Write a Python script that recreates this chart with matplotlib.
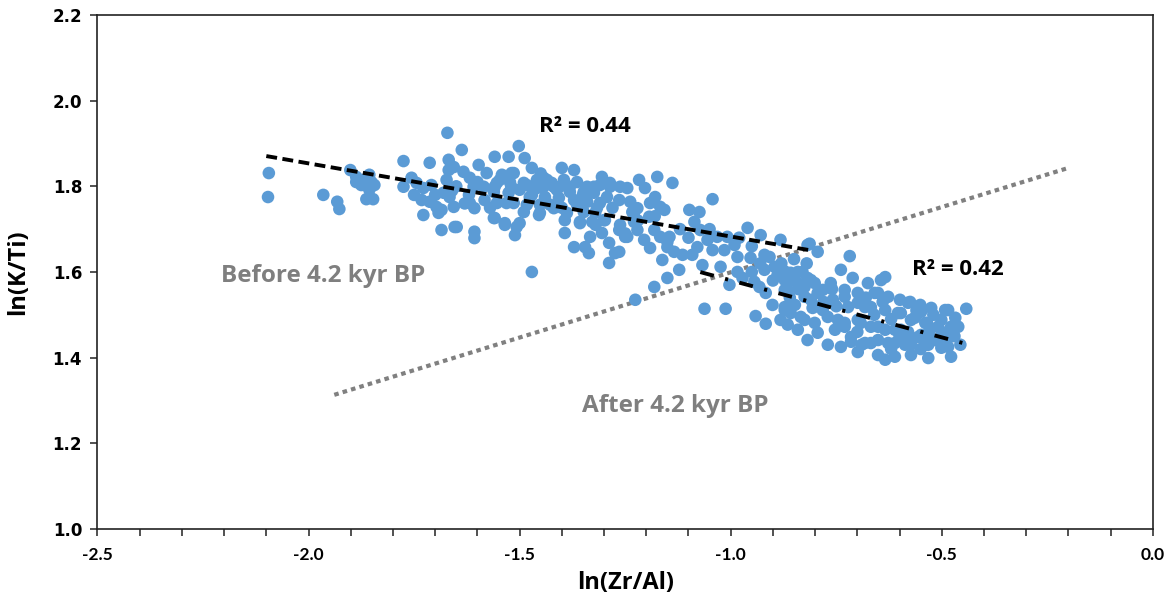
import matplotlib
matplotlib.use("Agg")
import matplotlib.pyplot as plt
from matplotlib.ticker import MultipleLocator, FormatStrFormatter
import numpy as np

# ---- data ----
ln_zr_al = [
    -2.094, -2.096, -1.965, -1.932, -1.927, -1.901, -1.887, -1.870, -1.856, -1.844,
    -1.875, -1.856, -1.863, -1.847, -1.887, -1.863, -1.851, -1.775, -1.775, -1.756,
    -1.744, -1.728, -1.713, -1.709, -1.728, -1.732, -1.713, -1.697, -1.692, -1.685,
    -1.671, -1.668, -1.668, -1.673, -1.680, -1.666, -1.656, -1.654,
    -1.656, -1.685, -1.649, -1.637, -1.633, -1.618, -1.609, -1.618, -1.607, -1.607,
    -1.607, -1.597, -1.578, -1.583, -1.559, -1.559, -1.547, -1.561, -1.535, -1.526,
    -1.531, -1.519, -1.502, -1.507, -1.511, -1.488, -1.490, -1.471, -1.476, -1.459,
    -1.454, -1.471, -1.443, -1.435, -1.419, -1.428, -1.400, -1.405, -1.393, -1.393,
    -1.381, -1.371, -1.371, -1.364, -1.357, -1.345, -1.336, -1.333, -1.324, -1.321,
    -1.305, -1.300, -1.305, -1.286, -1.288, -1.288, -1.274, -1.264, -1.264, -1.245,
    -1.250, -1.238, -1.233, -1.229, -1.226,
    -1.262, -1.217, -1.203, -1.174, -1.138, -1.221, -1.191, -1.179, -1.167, -1.229,
    -1.193, -1.157, -1.262, -1.221, -1.181, -1.245, -1.205, -1.167, -1.145, -1.191,
    -1.150, -1.134, -1.114, -1.091, -1.162, -1.264, -1.079, -1.098, -1.074, -1.086,
    -1.043, -1.072, -1.055, -1.032, -1.008, -1.043, -1.015, -0.991, -0.960, -0.929,
    -0.882, -0.984, -0.953, -0.908, -0.818, -1.067, -1.024, -1.122, -1.150, -1.181,
    -1.062, -1.012, -1.003, -0.984, -0.972, -0.944, -0.920, -0.932, -0.917, -0.896,
    -0.889, -0.872, -0.872, -0.858, -0.841, -0.841, -0.825, -0.818, -0.801, -0.901,
    -0.872, -0.858, -0.941, -0.917, -0.882, -0.841, -0.825, -0.801, -0.810, -0.806,
    -0.813, -0.794, -0.718, -0.634, -0.877, -0.810, -0.763, -0.739, -0.711, -0.675,
    -0.651, -0.627, -0.599, -0.575, -0.551, -0.525, -0.485, -0.442, -0.865, -0.825,
    -0.794, -0.758, -0.730, -0.699, -0.668, -0.634, -0.604, -0.573, -0.539, -0.509,
    -0.478, -0.461, -0.872, -0.834, -0.770, -0.730, -0.699, -0.668, -0.634, -0.597,
    -0.556, -0.525, -0.492, -0.794, -0.753, -0.715, -0.682, -0.651, -0.611, -0.573,
    -0.532, -0.501, -0.739, -0.699, -0.651, -0.611, -0.573, -0.532, -0.478, -0.456,
    -0.634, -0.468,
    -1.542, -1.514, -1.443, -1.424, -1.395, -1.364, -1.340, -1.310, -1.286, -1.554,
    -1.523, -1.483, -1.459, -1.412, -1.381, -1.348, -1.324, -1.293, -1.585, -1.561,
    -1.526, -1.500, -1.471, -1.440, -1.407, -1.371, -1.340, -1.310, -1.554, -1.514,
    -1.483, -1.452, -1.419, -1.388, -1.348, -1.317, -1.559, -1.535, -1.500, -1.452,
    -1.357, -1.328, -1.298,
    -0.644, -0.580, -0.549, -0.492, -0.730, -0.699, -0.659, -0.722, -0.682, -0.597,
    -0.564, -0.535, -0.501, -0.730, -0.692, -0.651, -0.611, -0.580, -0.549, -0.516,
    -0.485, -0.715, -0.668, -0.627, -0.587, -0.539, -0.485,
    -0.853, -0.782, -0.848, -0.782, -0.746, -0.865, -0.818, -0.770,
    -0.750, -0.620, -0.580, -0.660, -0.700, -0.530, -0.600, -0.640, -0.780, -0.760,
    -0.680, -0.560, -0.520, -0.500, -0.470, -0.550, -0.620, -0.690, -0.800, -0.840,
    -1.750, -1.700, -1.650, -1.620, -1.630, -1.600, -1.520, -1.450, -1.350, -1.280,
    -1.220, -1.180, -1.120, -1.100, -1.050, -0.980, -0.950, -0.920, -0.880, -0.850,
    -1.150, -1.250, -1.320, -1.400, -1.490, -1.570, -1.660,
    -0.950, -0.900, -0.930, -0.870, -0.830, -0.860, -0.820,
]
ln_k_ti = [
    1.831, 1.775, 1.780, 1.764, 1.747, 1.838, 1.822, 1.815, 1.827, 1.803,
    1.803, 1.792, 1.770, 1.770, 1.810, 1.803, 1.810, 1.859, 1.799, 1.820,
    1.808, 1.796, 1.855, 1.803, 1.733, 1.768, 1.764, 1.752, 1.738, 1.698,
    1.925, 1.862, 1.838, 1.815, 1.785, 1.775, 1.752, 1.705,
    1.845, 1.745, 1.705, 1.885, 1.834, 1.820, 1.799, 1.761, 1.749, 1.694,
    1.679, 1.850, 1.831, 1.768, 1.869, 1.799, 1.815, 1.726, 1.710, 1.869,
    1.761, 1.831, 1.894, 1.705, 1.686, 1.866, 1.808, 1.843, 1.775, 1.815,
    1.733, 1.600, 1.799, 1.815, 1.799, 1.757, 1.843, 1.799, 1.721, 1.691,
    1.799, 1.838, 1.658, 1.757, 1.714, 1.658, 1.644, 1.682, 1.799, 1.738,
    1.822, 1.721, 1.691, 1.808, 1.668, 1.621, 1.644, 1.768, 1.698, 1.796,
    1.682, 1.764, 1.740, 1.717, 1.535,
    1.799, 1.815, 1.796, 1.822, 1.808, 1.749, 1.761, 1.775, 1.752, 1.738,
    1.729, 1.745, 1.710, 1.698, 1.698, 1.682, 1.675, 1.682, 1.682, 1.656,
    1.658, 1.647, 1.640, 1.640, 1.628, 1.647, 1.658, 1.745, 1.740, 1.717,
    1.770, 1.698, 1.675, 1.682, 1.682, 1.651, 1.651, 1.663, 1.703, 1.686,
    1.675, 1.635, 1.633, 1.635, 1.663, 1.616, 1.612, 1.605, 1.586, 1.565,
    1.514, 1.514, 1.570, 1.600, 1.586, 1.577, 1.605, 1.565, 1.551, 1.612,
    1.593, 1.581, 1.558, 1.598, 1.600, 1.574, 1.565, 1.586, 1.574, 1.523,
    1.518, 1.504, 1.497, 1.479, 1.488, 1.465, 1.488, 1.481, 1.535, 1.516,
    1.666, 1.647, 1.637, 1.588, 1.605, 1.581, 1.574, 1.605, 1.586, 1.574,
    1.551, 1.542, 1.535, 1.530, 1.523, 1.516, 1.511, 1.514, 1.558, 1.542,
    1.551, 1.535, 1.542, 1.528, 1.518, 1.511, 1.504, 1.488, 1.481, 1.472,
    1.472, 1.472, 1.511, 1.495, 1.495, 1.481, 1.488, 1.472, 1.465, 1.465,
    1.448, 1.441, 1.441, 1.458, 1.465, 1.448, 1.434, 1.441, 1.434, 1.430,
    1.430, 1.423, 1.425, 1.413, 1.406, 1.402, 1.406, 1.399, 1.402, 1.430,
    1.395, 1.493,
    1.827, 1.831, 1.820, 1.808, 1.815, 1.810, 1.799, 1.803, 1.799, 1.808,
    1.810, 1.803, 1.796, 1.792, 1.787, 1.787, 1.785, 1.775, 1.799, 1.787,
    1.785, 1.792, 1.780, 1.775, 1.773, 1.768, 1.764, 1.761, 1.761, 1.761,
    1.757, 1.757, 1.749, 1.738, 1.740, 1.749, 1.726, 1.714, 1.714, 1.738,
    1.717, 1.717, 1.721,
    1.581, 1.528, 1.507, 1.511, 1.558, 1.551, 1.551, 1.518, 1.518, 1.504,
    1.493, 1.481, 1.488, 1.472, 1.481, 1.472, 1.465, 1.448, 1.453, 1.441,
    1.446, 1.437, 1.434, 1.434, 1.430, 1.430, 1.425,
    1.581, 1.558, 1.523, 1.511, 1.488, 1.477, 1.441, 1.430,
    1.520, 1.490, 1.460, 1.500, 1.460, 1.460, 1.450, 1.530, 1.530, 1.560,
    1.540, 1.510, 1.500, 1.460, 1.450, 1.420, 1.420, 1.430, 1.520, 1.560,
    1.780, 1.780, 1.800, 1.780, 1.760, 1.810, 1.800, 1.830, 1.780, 1.750,
    1.720, 1.730, 1.700, 1.680, 1.700, 1.680, 1.660, 1.640, 1.620, 1.630,
    1.670, 1.690, 1.710, 1.750, 1.740, 1.750, 1.790,
    1.600, 1.580, 1.620, 1.600, 1.600, 1.540, 1.620,
]

# linear trend lines (slope, intercept, x-range) and the reference line
before_slope, before_intercept, before_range = -0.1708, 1.512, (-2.10, -0.813)
after_slope, after_intercept, after_range = -0.2665, 1.314, (-1.072, -0.449)
ref_slope, ref_intercept, ref_range = 0.3048, 1.904, (-1.939, -0.200)

r2_labels = ["R\u00b2 = 0.44", "R\u00b2 = 0.42"]
period_labels = ["Before 4.2 kyr BP", "After 4.2 kyr BP"]
x_ticks = [-2.5, -2.0, -1.5, -1.0, -0.5, 0.0]
y_ticks = [1.0, 1.2, 1.4, 1.6, 1.8, 2.0, 2.2]

# ---- figure ----
fig = plt.figure(figsize=(11.74, 6.03), dpi=100)
ax = fig.add_axes([0.083, 0.123, 0.899, 0.852])

ax.scatter(ln_zr_al, ln_k_ti, s=82, color="#5B9BD5", edgecolors="none", zorder=2)

def trend(slope, intercept, xr):
    xs = np.array(xr)
    return xs, intercept + slope * xs

xs, ys = trend(before_slope, before_intercept, before_range)
ax.plot(xs, ys, color="black", lw=2.8, linestyle=(0, (2.8, 1.4)), zorder=3)
xs, ys = trend(after_slope, after_intercept, after_range)
ax.plot(xs, ys, color="black", lw=2.8, linestyle=(0, (3.6, 3.0, 0.8, 3.0)), zorder=3)
xs, ys = trend(ref_slope, ref_intercept, ref_range)
ax.plot(xs, ys, color="#808080", lw=3.0, linestyle=(0, (1.1, 1.0)), zorder=1,
        solid_capstyle="butt", dash_capstyle="butt")

ax.text(-1.345, 1.939, r2_labels[0], fontsize=16, fontweight="bold",
        family="Open Sans", ha="center", va="center", color="black")
ax.text(-0.461, 1.605, r2_labels[1], fontsize=16, fontweight="bold",
        family="Open Sans", ha="center", va="center", color="black")
ax.text(-1.965, 1.591, period_labels[0], fontsize=17.5, fontweight="bold",
        family="Open Sans", ha="center", va="center", color="#7F7F7F")
ax.text(-1.131, 1.287, period_labels[1], fontsize=17.5, fontweight="bold",
        family="Open Sans", ha="center", va="center", color="#7F7F7F")

ax.set_xlim(-2.5, 0.0)
ax.set_ylim(1.0, 2.2)
ax.set_xticks(x_ticks)
ax.set_yticks(y_ticks)
ax.xaxis.set_minor_locator(MultipleLocator(0.1))
ax.xaxis.set_major_formatter(FormatStrFormatter("%.1f"))
ax.yaxis.set_major_formatter(FormatStrFormatter("%.1f"))

for sp in ax.spines.values():
    sp.set_linewidth(1.2)
    sp.set_color("#222222")

ax.tick_params(axis="x", which="both", direction="out", length=5, width=1.1,
               color="#222222", pad=8)
ax.tick_params(axis="y", which="major", direction="out", length=5, width=1.1,
               color="#222222", pad=6)
for lab in ax.get_xticklabels():
    lab.set_fontfamily("Lato")
    lab.set_fontweight("bold")
    lab.set_fontsize(12.5)
for lab in ax.get_yticklabels():
    lab.set_fontfamily("DejaVu Sans")
    lab.set_fontweight("bold")
    lab.set_fontsize(12)

ax.set_xlabel("ln(Zr/Al)", fontsize=17, fontweight="bold", family="Open Sans", labelpad=6)
ax.set_ylabel("ln(K/Ti)", fontsize=17, fontweight="bold", family="Open Sans", labelpad=16)

fig.savefig("out.png", dpi=100)
